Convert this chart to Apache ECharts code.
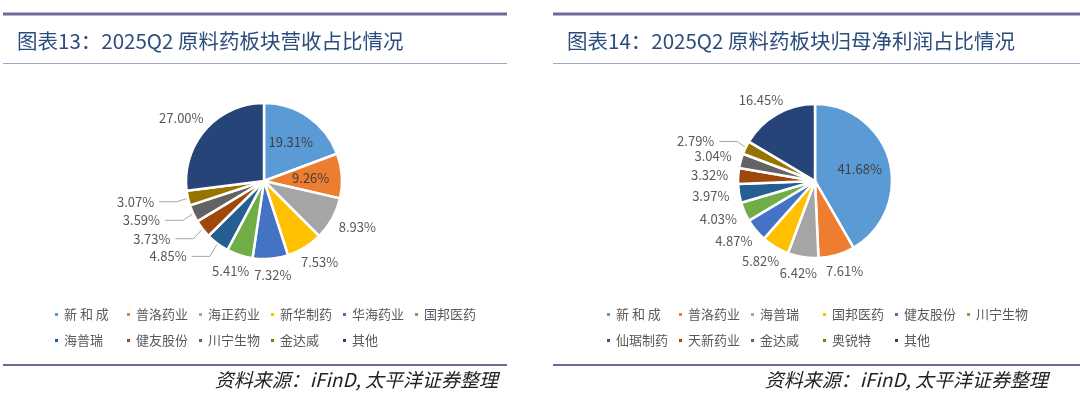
<!DOCTYPE html>
<html>
<head>
<meta charset="utf-8">
<script src="https://cdn.jsdelivr.net/npm/echarts@6/dist/echarts.min.js"></script>
<style>
  html, body { margin: 0; padding: 0; background: #fff; }
  #wrap { position: relative; width: 1080px; height: 398px; }
  .panel { position: absolute; top: 0; width: 540px; height: 398px; }
</style>
</head>
<body>
<div id="wrap">
  <div id="left" class="panel" style="left:0"></div>
  <div id="right" class="panel" style="left:540px"></div>
</div>
<script>
// 图表13 营收占比
const revNames = ["新 和 成", "普洛药业", "海正药业", "新华制药", "华海药业", "国邦医药", "海普瑞", "健友股份", "川宁生物", "金达威", "其他"];
const revValues = [19.31, 9.26, 8.93, 7.53, 7.32, 5.41, 4.85, 3.73, 3.59, 3.07, 27.00];

// 图表14 归母净利润占比
const profitNames = ["新 和 成", "普洛药业", "海普瑞", "国邦医药", "健友股份", "川宁生物", "仙琚制药", "天新药业", "金达威", "奥锐特", "其他"];
const profitValues = [41.68, 7.61, 6.42, 5.82, 4.87, 4.03, 3.97, 3.32, 3.04, 2.79, 16.45];

const palette = ["#5B9BD5", "#ED7D31", "#A5A5A5", "#FFC000", "#4472C4", "#70AD47",
                 "#255E91", "#9E480E", "#636363", "#997300", "#264478"];

const FONT = "'Noto Sans CJK SC', 'Noto Sans', sans-serif";

const renderChart = (el, cfg) => {
  const chart = echarts.init(el);
  const total = cfg.values.reduce((a, b) => a + b, 0);
  // mid angle of every slice, clockwise from 12 o'clock
  let acc = 0;
  const mids = cfg.values.map((v) => {
    const m = (acc + v / 2) / total * Math.PI * 2;
    acc += v;
    return m;
  });

  const data = cfg.values.map((v, i) => {
    const item = { name: cfg.names[i], value: v };
    if (cfg.inside.includes(i)) {
      item.label = { position: "inside", color: "#404040" };
    }
    if (!cfg.lines.includes(i)) {
      item.labelLine = { show: false };
    }
    return item;
  });

  // excel-like placement: inside labels further out, outside labels hugging the edge
  const labelLayout = (params) => {
    const i = params.dataIndex;
    if (cfg.lines.includes(i)) return {};
    const ux = Math.sin(mids[i]);
    const uy = -Math.cos(mids[i]);
    const [cx, cy] = cfg.center;
    const r = cfg.radius;
    if (cfg.inside.includes(i)) {
      return { x: cx + ux * r * 0.6, y: cy + uy * r * 0.6, align: "center", verticalAlign: "middle" };
    }
    const w = params.labelRect.width;
    const h = params.labelRect.height;
    const d = r + 10;
    return {
      x: cx + ux * d + ux * w / 2,
      y: cy + uy * d + uy * h / 2,
      align: "center",
      verticalAlign: "middle",
    };
  };

  const options = {
    color: palette,
    animation: false,
    title: {
      text: cfg.title,
      left: cfg.lineX0 + 14,
      top: 31,
      padding: 0,
      textStyle: { color: "#2B4C7E", fontSize: 20.5, fontWeight: "normal", fontFamily: FONT },
    },
    legend: {
      left: cfg.legendLeft,
      top: 304,
      padding: 0,
      width: 430,
      icon: "rect",
      itemWidth: 5,
      itemHeight: 5,
      itemGap: 5,
      data: cfg.names,
      textStyle: {
        color: "#595959",
        fontSize: 13,
        fontFamily: FONT,
        width: 56,
        lineHeight: 21,
        overflow: "truncate",
      },
    },
    graphic: [
      { type: "line", shape: { x1: cfg.lineX0, y1: 14, x2: cfg.lineX1, y2: 14 },
        style: { stroke: "#6B6B9B", lineWidth: 3 } },
      { type: "line", shape: { x1: cfg.lineX0, y1: 63.5, x2: cfg.lineX1, y2: 63.5 },
        style: { stroke: "#A3A3C6", lineWidth: 1 } },
      { type: "line", shape: { x1: cfg.lineX0, y1: 365, x2: cfg.lineX1, y2: 365 },
        style: { stroke: "#6B6B9B", lineWidth: 2 } },
      { type: "text", x: cfg.sourceRight, y: 380,
        style: { text: "资料来源：iFinD, 太平洋证券整理", fill: "#222", fontSize: 19,
                 fontStyle: "italic", fontFamily: FONT, align: "right", verticalAlign: "middle" } },
    ],
    series: [
      {
        type: "pie",
        center: cfg.center,
        radius: cfg.radius,
        startAngle: 90,
        clockwise: true,
        data: data,
        itemStyle: { borderColor: "#fff", borderWidth: 2.5 },
        label: {
          show: true,
          position: "outside",
          color: "#595959",
          fontSize: 13,
          fontFamily: FONT,
          formatter: (p) => p.value.toFixed(2) + "%",
        },
        labelLine: { length: cfg.lineLen[0], length2: cfg.lineLen[1], lineStyle: { color: "#A6A6A6", width: 1 } },
        labelLayout: labelLayout,
      },
    ],
  };
  chart.setOption(options);
};

renderChart(document.getElementById("left"), {
  title: "图表13：2025Q2 原料药板块营收占比情况",
  names: revNames,
  values: revValues,
  inside: [0, 1],
  lines: [6, 7, 8, 9],
  lineLen: [16, 18],
  center: [264, 181],
  radius: 78,
  legendLeft: 53,
  lineX0: 3,
  lineX1: 507,
  sourceRight: 498,
});

renderChart(document.getElementById("right"), {
  title: "图表14：2025Q2 原料药板块归母净利润占比情况",
  names: profitNames,
  values: profitValues,
  inside: [0],
  lines: [9],
  lineLen: [14, 18],
  center: [275, 181],
  radius: 77,
  legendLeft: 65,
  lineX0: 13,
  lineX1: 540,
  sourceRight: 508,
});
</script>
</body>
</html>
